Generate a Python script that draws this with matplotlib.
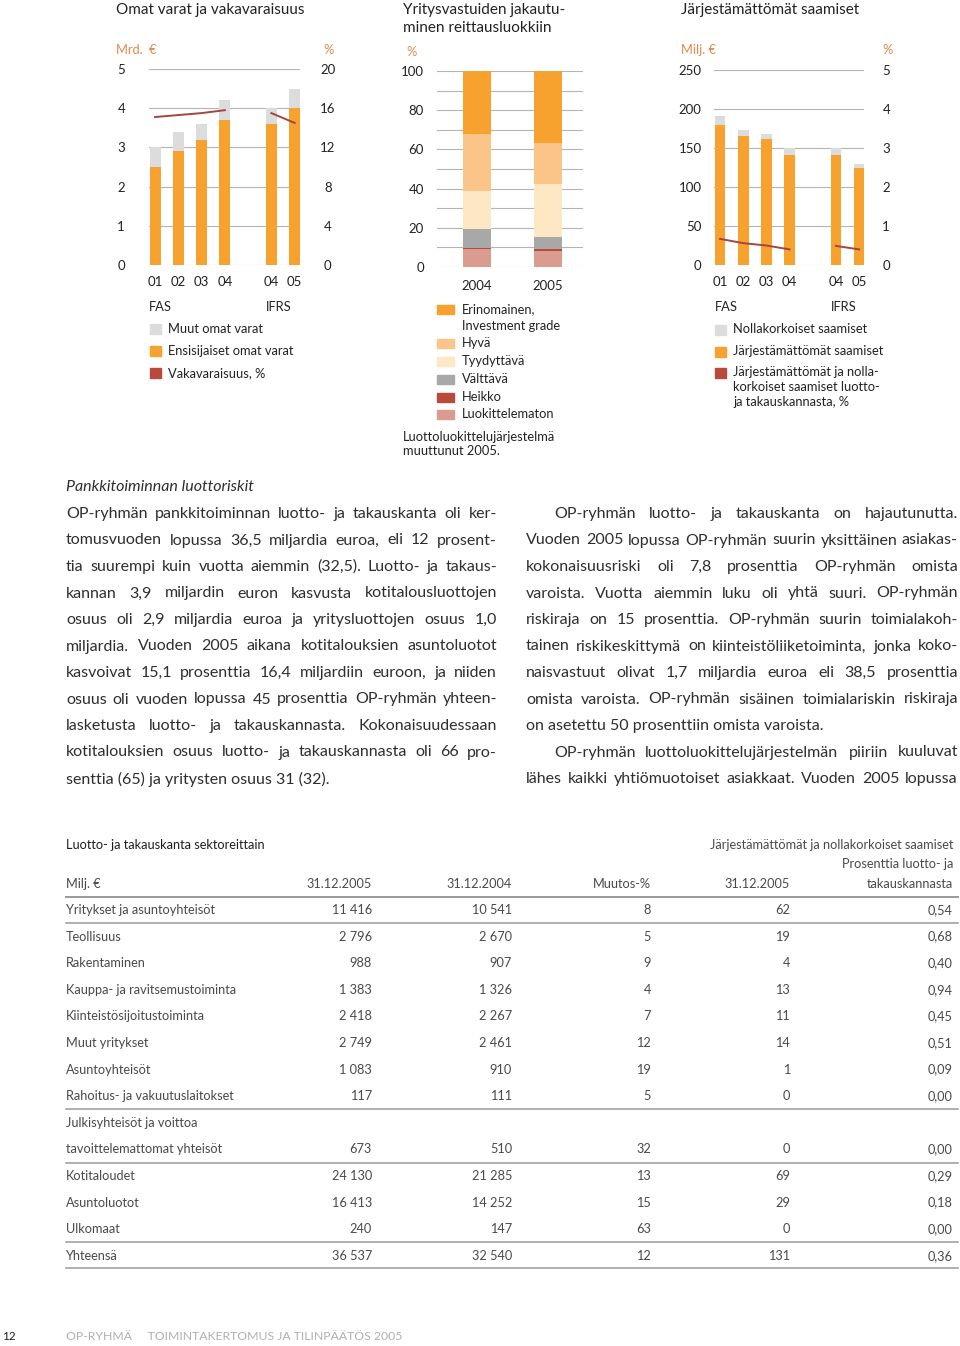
import matplotlib
matplotlib.use("Agg")
import matplotlib.pyplot as plt
from matplotlib.patches import Rectangle

plt.rcParams['font.family'] = ['Lato', 'DejaVu Sans']

W, H = 960, 1346

# --- chart data ---
years1 = ['01', '02', '03', '04', '04', '05']
xpos = [0, 1, 2, 3, 5, 6]
primary_capital = [2.5, 2.9, 3.2, 3.7, 3.6, 4.0]
other_capital = [0.5, 0.5, 0.4, 0.5, 0.4, 0.5]
solvency_fas = [15.1, 15.3, 15.5, 15.8]
solvency_ifrs = [15.5, 14.5]

rating_years = ['2004', '2005']
rating_names = ['Luokittelematon', 'Heikko', 'Välttävä', 'Tyydyttävä', 'Hyvä',
                'Erinomainen']
rating_2004 = [9.2, 0.3, 9.9, 19.2, 29.1, 32.3]
rating_2005 = [8.0, 1.4, 5.9, 27.2, 20.9, 36.6]

nonperf = [180, 165, 162, 141, 141, 124]
zero_int = [11, 8, 6, 9, 9, 6]
nonperf_pct_fas = [0.67, 0.56, 0.50, 0.40]
nonperf_pct_ifrs = [0.49, 0.40]

# --- table data ---
tab_rows = ['Yritykset ja asuntoyhteisöt', 'Teollisuus', 'Rakentaminen',
            'Kauppa- ja ravitsemustoiminta', 'Kiinteistösijoitustoiminta',
            'Muut yritykset', 'Asuntoyhteisöt', 'Rahoitus- ja vakuutuslaitokset',
            'Julkisyhteisöt ja voittoa', 'tavoittelemattomat yhteisöt',
            'Kotitaloudet', 'Asuntoluotot', 'Ulkomaat', 'Yhteensä']
tab_2005 = ['11 416', '2 796', '988', '1 383', '2 418', '2 749', '1 083', '117',
            '', '673', '24 130', '16 413', '240', '36 537']
tab_2004 = ['10 541', '2 670', '907', '1 326', '2 267', '2 461', '910', '111',
            '', '510', '21 285', '14 252', '147', '32 540']
tab_change = ['8', '5', '9', '4', '7', '12', '19', '5', '', '32', '13', '15', '63', '12']
tab_np = ['62', '19', '4', '13', '11', '14', '1', '0', '', '0', '69', '29', '0', '131']
tab_np_pct = ['0,54', '0,68', '0,40', '0,94', '0,45', '0,51', '0,09', '0,00', '',
              '0,00', '0,29', '0,18', '0,00', '0,36']

left_par = [
    "OP-ryhmän pankkitoiminnan luotto- ja takauskanta oli ker-",
    "tomusvuoden lopussa 36,5 miljardia euroa, eli 12 prosent-",
    "tia suurempi kuin vuotta aiemmin (32,5). Luotto- ja takaus-",
    "kannan 3,9 miljardin euron kasvusta kotitalousluottojen",
    "osuus oli 2,9 miljardia euroa ja yritysluottojen osuus 1,0",
    "miljardia. Vuoden 2005 aikana kotitalouksien asuntoluotot",
    "kasvoivat 15,1 prosenttia 16,4 miljardiin euroon, ja niiden",
    "osuus oli vuoden lopussa 45 prosenttia OP-ryhmän yhteen-",
    "lasketusta luotto- ja takauskannasta. Kokonaisuudessaan",
    "kotitalouksien osuus luotto- ja takauskannasta oli 66 pro-",
    "senttia (65) ja yritysten osuus 31 (32).",
]
right_par = [
    "OP-ryhmän luotto- ja takauskanta on hajautunutta.",
    "Vuoden 2005 lopussa OP-ryhmän suurin yksittäinen asiakas-",
    "kokonaisuusriski oli 7,8 prosenttia OP-ryhmän omista",
    "varoista. Vuotta aiemmin luku oli yhtä suuri. OP-ryhmän",
    "riskiraja on 15 prosenttia. OP-ryhmän suurin toimialakoh-",
    "tainen riskikeskittymä on kiinteistöliiketoiminta, jonka koko-",
    "naisvastuut olivat 1,7 miljardia euroa eli 38,5 prosenttia",
    "omista varoista. OP-ryhmän sisäinen toimialariskin riskiraja",
    "on asetettu 50 prosenttiin omista varoista.",
    "OP-ryhmän luottoluokittelujärjestelmän piiriin kuuluvat",
    "lähes kaikki yhtiömuotoiset asiakkaat. Vuoden 2005 lopussa",
]

ORANGE = '#f7a12f'
LGRAY = '#dcdcdc'
DRED = '#b84a3c'
LINE = '#a4463c'
AXLBL = '#e08a4e'
GRID = '#b4b4b4'
TXT = '#2e2e2e'
TAB = '#4a4a4a'
rating_colors = ['#d99c8e', '#b94a3c', '#a8a8a8', '#fee8c4', '#fbc58a', ORANGE]

TICK = 9.5
LEG = 9.3
TS = 9.2

fig = plt.figure(figsize=(W / 100, H / 100), dpi=100)


def box(x0, y0, x1, y1):
    return [x0 / W, 1 - y1 / H, (x1 - x0) / W, (y1 - y0) / H]


page = fig.add_axes([0, 0, 1, 1])
page.set_xlim(0, W)
page.set_ylim(H, 0)
page.axis('off')


def style_chart(ax, ymax, step, lpad, grid_step=None):
    for s in ax.spines.values():
        s.set_visible(False)
    ax.set_ylim(0, ymax)
    ax.set_yticks([i * step for i in range(int(round(ymax / step)) + 1)])
    gs = grid_step or step
    for i in range(int(round(ymax / gs)) + 1):
        ax.axhline(i * gs, color=GRID, lw=0.8, zorder=0)
    ax.tick_params(length=0, labelsize=TICK, colors='#222222')
    ax.tick_params(axis='y', pad=lpad)
    ax.tick_params(axis='x', pad=8)


# chart 1
ax1 = fig.add_axes(box(149, 69, 300, 265))
ax1.bar(xpos, primary_capital, width=0.47, color=ORANGE, zorder=2)
ax1.bar(xpos, other_capital, width=0.47, bottom=primary_capital, color=LGRAY, zorder=2)
ax1.set_xlim(-0.26, 6.23)
style_chart(ax1, 5, 1, 20)
ax1.set_xticks(xpos, years1)
ax1.set_yticklabels(['0', '1', '2', '3', '4', '5'], ha='center')
ax1b = ax1.twinx()
ax1b.plot(xpos[:4], solvency_fas, color=LINE, lw=1.4, zorder=3)
ax1b.plot(xpos[4:], solvency_ifrs, color=LINE, lw=1.4, zorder=3)
ax1b.set_ylim(0, 20)
ax1b.set_yticks([0, 4, 8, 12, 16, 20])
ax1b.set_yticklabels(['0', '4', '8', '12', '16', '20'], ha='center')
for s in ax1b.spines.values():
    s.set_visible(False)
ax1b.tick_params(length=0, labelsize=TICK, pad=20, colors='#222222')

# chart 2
ax2 = fig.add_axes(box(437, 71, 583, 267))
bottom = [0, 0]
for name, v4, v5, c in zip(rating_names, rating_2004, rating_2005, rating_colors):
    ax2.bar([0, 1], [v4, v5], bottom=bottom, width=0.39, color=c, zorder=2)
    bottom = [bottom[0] + v4, bottom[1] + v5]
ax2.set_xlim(-0.563, 1.49)
style_chart(ax2, 100, 20, 9.5, grid_step=10)
ax2.set_xticks([0, 1], rating_years)
ax2.tick_params(axis='x', pad=9)

# chart 3
ax3 = fig.add_axes(box(714, 70, 864, 265))
ax3.bar(xpos, nonperf, width=0.46, color=ORANGE, zorder=2)
ax3.bar(xpos, zero_int, width=0.46, bottom=nonperf, color=LGRAY, zorder=2)
ax3.set_xlim(-0.26, 6.21)
style_chart(ax3, 250, 50, 9)
ax3.set_xticks(xpos, years1)
ax3b = ax3.twinx()
ax3b.plot(xpos[:4], nonperf_pct_fas, color=LINE, lw=1.4, zorder=3)
ax3b.plot(xpos[4:], nonperf_pct_ifrs, color=LINE, lw=1.4, zorder=3)
ax3b.set_ylim(0, 5)
ax3b.set_yticks([0, 1, 2, 3, 4, 5])
ax3b.set_yticklabels(['0', '1', '2', '3', '4', '5'], ha='center')
for s in ax3b.spines.values():
    s.set_visible(False)
ax3b.tick_params(length=0, labelsize=TICK, pad=16, colors='#222222')

# chart titles and unit labels
page.text(116, 10, 'Omat varat ja vakavaraisuus', fontsize=11, color='#222222', va='center')
page.text(116, 50, 'Mrd.  €', fontsize=LEG, color=AXLBL, va='center')
page.text(329, 50, '%', fontsize=LEG, color=AXLBL, va='center', ha='center')
page.text(403, 19, 'Yritysvastuiden jakautu-\nminen reittausluokkiin', fontsize=11,
          color='#222222', va='center', linespacing=1.35)
page.text(406, 52, '%', fontsize=LEG, color=AXLBL, va='center')
page.text(681, 10, 'Järjestämättömät saamiset', fontsize=11, color='#222222', va='center')
page.text(681, 50, 'Milj. €', fontsize=LEG, color=AXLBL, va='center')
page.text(888, 50, '%', fontsize=LEG, color=AXLBL, va='center', ha='center')

# legends
lg = dict(fontsize=LEG, color='#222222', va='center')
page.text(149, 307, 'FAS', **lg)
page.text(266, 307, 'IFRS', **lg)
for y, c, t in zip([329, 351, 373], [LGRAY, ORANGE, DRED],
                   ['Muut omat varat', 'Ensisijaiset omat varat', 'Vakavaraisuus, %']):
    page.add_patch(Rectangle((150, y - 5), 11, 10, color=c))
    page.text(168, y, t, **lg)

leg2 = [(309, ORANGE, 'Erinomainen,'), (326, None, 'Investment grade'),
        (343, '#fbc58a', 'Hyvä'), (361, '#fee8c4', 'Tyydyttävä'),
        (379, '#a8a8a8', 'Välttävä'), (397, '#b94a3c', 'Heikko'),
        (414, '#d99c8e', 'Luokittelematon')]
for y, c, t in leg2:
    if c:
        page.add_patch(Rectangle((437, y - 4.5), 17, 9, color=c))
    page.text(462, y, t, **lg)
page.text(403, 444, 'Luottoluokittelujärjestelmä\nmuuttunut 2005.', fontsize=LEG,
          color='#222222', va='center', linespacing=1.22)

page.text(715, 307, 'FAS', **lg)
page.text(831, 307, 'IFRS', **lg)
for y, c, t in zip([330, 352, 373], [LGRAY, ORANGE, DRED],
                   ['Nollakorkoiset saamiset', 'Järjestämättömät saamiset',
                    'Järjestämättömät ja nolla-\nkorkoiset saamiset luotto-\nja takauskannasta, %']):
    page.add_patch(Rectangle((715, y - 5), 11, 10, color=c))
    page.text(733, y - 7, t, fontsize=LEG, color='#222222', va='top', linespacing=1.3)

# body text: pick a size so the tightest justified line still fits
renderer = fig.canvas.get_renderer()
probe = page.text(0, 0, '', fontsize=10)
fit = []
for line in left_par[:-1]:
    probe.set_text(line)
    fit.append(431 / probe.get_window_extent(renderer).width)
for i, line in enumerate(right_par):
    if i == 8:
        continue
    probe.set_text(line)
    avail = 404 if i in (0, 9) else 432
    fit.append(avail / probe.get_window_extent(renderer).width)
probe.remove()
BODY = min(10 * min(fit) * 0.99, 12.5)


def justify(line, x0, x1, y, last=False):
    if last:
        page.text(x0, y, line, fontsize=BODY, color=TXT, va='center')
        return
    words = line.split(' ')
    objs = [page.text(0, y, w, fontsize=BODY, color=TXT, va='center') for w in words]
    widths = [o.get_window_extent(renderer).width for o in objs]
    gap = (x1 - x0 - sum(widths)) / max(len(words) - 1, 1)
    x = x0
    for o, w in zip(objs, widths):
        o.set_x(x)
        x += w + gap


page.text(66, 487, 'Pankkitoiminnan luottoriskit', fontsize=BODY, style='italic',
          color=TXT, va='center')
ys = [514 + i * 26.5 for i in range(11)]
for i, (line, y) in enumerate(zip(left_par, ys)):
    justify(line, 66, 497, y, last=(i == len(left_par) - 1))
for i, (line, y) in enumerate(zip(right_par, ys)):
    x0 = 554 if i in (0, 9) else 526
    justify(line, x0, 958, y, last=(i == 8))

# table
page.text(66, 845, 'Luotto- ja takauskanta sektoreittain', fontsize=TS, color='#1e1e1e', va='center')
page.text(953, 845, 'Järjestämättömät ja nollakorkoiset saamiset', fontsize=TS, color=TAB,
          va='center', ha='right')
page.text(953, 864, 'Prosenttia luotto- ja', fontsize=TS, color=TAB, va='center', ha='right')
hdr_y = 884
page.text(66, hdr_y, 'Milj. €', fontsize=TS, color=TAB, va='center')
col_x = [372, 512, 651, 790, 953]
for x, t in zip(col_x, ['31.12.2005', '31.12.2004', 'Muutos-%', '31.12.2005', 'takauskannasta']):
    page.text(x, hdr_y, t, fontsize=TS, color=TAB, va='center', ha='right')

row_y = [910 + i * 26.6 for i in range(len(tab_rows))]
for i, y in enumerate(row_y):
    page.text(66, y, tab_rows[i], fontsize=TS, color=TAB, va='center')
    for x, col in zip(col_x, [tab_2005, tab_2004, tab_change, tab_np, tab_np_pct]):
        page.text(x, y, col[i], fontsize=TS, color=TAB, va='center', ha='right')

page.plot([66, 958], [897, 897], color='#9a9a9a', lw=1.4)
for y in [923, 1109, 1163, 1242, 1268]:
    page.plot([66, 958], [y, y], color='#9a9a9a', lw=1.1)

# footer
page.text(2, 1336, '12', fontsize=8.5, color='#222222', va='center')
page.text(66, 1336, 'OP-RYHMÄ     TOIMINTAKERTOMUS JA TILINPÄÄTÖS 2005', fontsize=8.8,
          color='#b0b0b0', va='center')

fig.savefig('out.png', dpi=100)
